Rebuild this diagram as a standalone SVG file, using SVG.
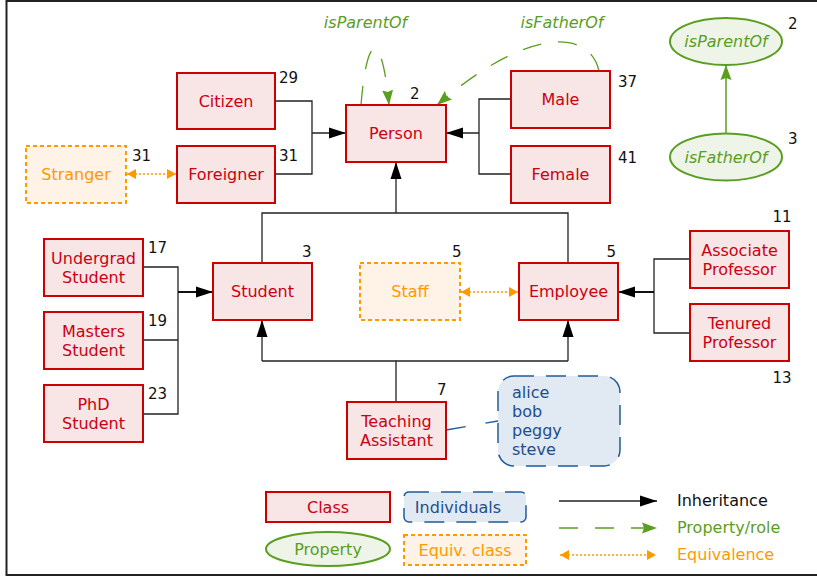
<svg xmlns="http://www.w3.org/2000/svg" width="817" height="577" viewBox="0 0 817 577">
<style>
text{font-family:"DejaVu Sans","Liberation Sans",sans-serif;}
.cls rect{fill:#f8e5e6;stroke:#cc0000;stroke-width:2;}
.cls text{fill:#cc0011;font-size:16px;text-anchor:middle;}
.eq rect{fill:#fff2e6;stroke:#ff9900;stroke-width:2;stroke-dasharray:4 3;}
.eq text{fill:#ff9900;font-size:16px;text-anchor:middle;}
.prop ellipse{fill:#eef4e8;stroke:#5a9e1f;stroke-width:2;}
.prop text{fill:#5a9e1f;font-size:16px;font-style:italic;text-anchor:middle;}
.num{fill:#111;font-size:15px;}
.inh{fill:none;stroke:#222;stroke-width:1.3;}
.inh2{fill:none;stroke:#111;stroke-width:2;}
.role{fill:none;stroke:#5a9e1f;stroke-width:1.3;stroke-dasharray:19 17;}
.equiv{fill:none;stroke:#ff9900;stroke-width:1.5;stroke-dasharray:2 2;}
.ind rect{fill:#e1e9f2;stroke:#1f5c99;stroke-width:1.5;stroke-dasharray:20 12;}
.ind text{fill:#1f4e8c;font-size:16px;}
.lbl{font-size:16px;font-style:italic;fill:#5a9e1f;text-anchor:middle;}
.leg{font-size:16px;}
</style>
<defs>
<marker id="tri" markerUnits="userSpaceOnUse" markerWidth="18" markerHeight="12" refX="17" refY="6" orient="auto">
<path d="M0,0.5 L17,6 L0,11.5 z" fill="#000"/>
</marker>
<marker id="gtri" markerUnits="userSpaceOnUse" markerWidth="16" markerHeight="12" refX="15" refY="6" orient="auto">
<path d="M0,0.5 L15,6 L0,11.5 L2,6 z" fill="#5a9e1f"/>
</marker>
<marker id="otri" markerUnits="userSpaceOnUse" markerWidth="10" markerHeight="11" refX="9" refY="5.5" orient="auto-start-reverse">
<path d="M0,0.5 L9,5.5 L0,10.5 z" fill="#ff9900"/>
</marker>
</defs>
<rect x="6.5" y="1" width="820" height="574" fill="#fff" stroke="#222" stroke-width="2"/>

<g id="connectors">
<!-- Citizen / Foreigner to Person -->
<path class="inh" d="M275,101 H312 V174 H275"/>
<path class="inh" d="M312,133 H346" marker-end="url(#tri)"/>
<!-- Male / Female to Person -->
<path class="inh" d="M511,99 H479 V174 H511"/>
<path class="inh" d="M479,133 H446" marker-end="url(#tri)"/>
<!-- Student / Employee to Person -->
<path class="inh" d="M262,263 V213 H568 V263"/>
<path class="inh" d="M396,213 V162" marker-end="url(#tri)"/>
<!-- Students subclasses -->
<path class="inh" d="M143,267 H178 V414 H143 M143,340 H178"/>
<path class="inh2" d="M178,292 H213" marker-end="url(#tri)"/>
<!-- Professors -->
<path class="inh" d="M690,259 H654 V333 H690"/>
<path class="inh2" d="M654,292 H618" marker-end="url(#tri)"/>
<!-- Teaching Assistant -->
<path class="inh" d="M396,402 V361 H262"/>
<path class="inh" d="M262,361 V320" marker-end="url(#tri)"/>
<path class="inh" d="M396,361 H568"/>
<path class="inh" d="M568,361 V320" marker-end="url(#tri)"/>
<!-- Equivalences -->
<path class="equiv" d="M127,174 H176" marker-start="url(#otri)" marker-end="url(#otri)"/>
<path class="equiv" d="M461,292 H518" marker-start="url(#otri)" marker-end="url(#otri)"/>
<!-- Properties -->
<path class="role" d="M361,105 C367,30 382,30 389,105" marker-end="url(#gtri)"/>
<path class="role" d="M599,71 C590,30 530,25 437,105" marker-end="url(#gtri)"/>
<path fill="none" stroke="#5a9e1f" stroke-width="1.5" d="M726,133 V65" marker-end="url(#gtri)"/>
<!-- TA to individuals -->
<path fill="none" stroke="#1f5c99" stroke-width="1.3" stroke-dasharray="20 20" d="M446,430 L498,421"/>
</g>

<text class="lbl" x="365.5" y="28">isParentOf</text>
<text class="lbl" x="562" y="28">isFatherOf</text>

<g id="citizen" class="cls"><rect x="177" y="73" width="98" height="56"/><text x="226" y="106.5">Citizen</text></g>
<text class="num" x="279" y="83">29</text>
<g id="foreigner" class="cls"><rect x="177" y="146" width="98" height="57"/><text x="226" y="179.5">Foreigner</text></g>
<text class="num" x="279" y="161">31</text>
<g id="stranger" class="eq"><rect x="26" y="146" width="100" height="57"/><text x="76" y="179.5">Stranger</text></g>
<text class="num" x="132" y="161">31</text>
<g id="person" class="cls"><rect x="346" y="105" width="100" height="57"/><text x="396" y="139">Person</text></g>
<text class="num" x="410" y="99">2</text>
<g id="male" class="cls"><rect x="511" y="71" width="99" height="57"/><text x="560.5" y="105">Male</text></g>
<text class="num" x="618" y="87">37</text>
<g id="female" class="cls"><rect x="511" y="146" width="99" height="57"/><text x="560.5" y="180">Female</text></g>
<text class="num" x="618" y="163">41</text>

<g id="prop-isParentOf" class="prop"><ellipse cx="726" cy="41.5" rx="56" ry="23.5"/><text x="726" y="47">isParentOf</text></g>
<text class="num" x="788" y="29">2</text>
<g id="prop-isFatherOf" class="prop"><ellipse cx="726" cy="157" rx="56" ry="23.5"/><text x="726" y="162.5">isFatherOf</text></g>
<text class="num" x="788" y="144">3</text>

<g id="undergrad" class="cls"><rect x="44" y="239" width="99" height="57"/><text x="93.5" y="263.5">Undergrad</text><text x="93.5" y="283">Student</text></g>
<text class="num" x="148" y="253">17</text>
<g id="masters" class="cls"><rect x="44" y="312" width="99" height="57"/><text x="93.5" y="336.5">Masters</text><text x="93.5" y="356">Student</text></g>
<text class="num" x="148" y="326">19</text>
<g id="phd" class="cls"><rect x="44" y="385" width="99" height="57"/><text x="93.5" y="409.5">PhD</text><text x="93.5" y="429">Student</text></g>
<text class="num" x="148" y="399">23</text>

<g id="student" class="cls"><rect x="213" y="263" width="99" height="57"/><text x="262.5" y="297">Student</text></g>
<text class="num" x="302" y="256.5">3</text>
<g id="staff" class="eq"><rect x="360" y="263" width="100" height="57"/><text x="410" y="297">Staff</text></g>
<text class="num" x="452" y="257">5</text>
<g id="employee" class="cls"><rect x="519" y="263" width="99" height="57"/><text x="568.5" y="297">Employee</text></g>
<text class="num" x="606.5" y="256.5">5</text>
<g id="assoc" class="cls"><rect x="690" y="231" width="99" height="57"/><text x="739.5" y="255.5">Associate</text><text x="739.5" y="275">Professor</text></g>
<text class="num" x="772.5" y="221.5">11</text>
<g id="tenured" class="cls"><rect x="690" y="304" width="99" height="57"/><text x="739.5" y="328.5">Tenured</text><text x="739.5" y="348">Professor</text></g>
<text class="num" x="772.5" y="383">13</text>
<g id="ta" class="cls"><rect x="347" y="402" width="99" height="57"/><text x="396.5" y="426.5">Teaching</text><text x="396.5" y="446">Assistant</text></g>
<text class="num" x="437" y="395">7</text>

<g id="individuals" class="ind"><rect x="498" y="376" width="122" height="90" rx="16"/>
<text x="512" y="398">alice</text><text x="512" y="417">bob</text><text x="512" y="436">peggy</text><text x="512" y="455">steve</text></g>

<g id="legend">
<g class="cls"><rect x="266" y="492" width="124" height="30"/><text x="328" y="513">Class</text></g>
<g class="ind"><rect x="404" y="492" width="122" height="30" rx="5"/><text x="458" y="512.5" text-anchor="middle">Individuals</text></g>
<g class="prop"><ellipse cx="328" cy="549" rx="62" ry="17"/><text x="328" y="554.5" font-style="normal" style="font-style:normal">Property</text></g>
<g class="eq"><rect x="404" y="535" width="122" height="30"/><text x="465" y="555.5">Equiv. class</text></g>
<path class="inh" d="M559,501 H657" marker-end="url(#tri)"/>
<path class="role" d="M559,528 H657" marker-end="url(#gtri)"/>
<path class="equiv" d="M560,555 H656" marker-start="url(#otri)" marker-end="url(#otri)"/>
<text class="leg" x="677" y="506" fill="#111">Inheritance</text>
<text class="leg" x="677" y="533" fill="#5a9e1f">Property/role</text>
<text class="leg" x="677" y="560" fill="#ff9900">Equivalence</text>
</g>
</svg>
